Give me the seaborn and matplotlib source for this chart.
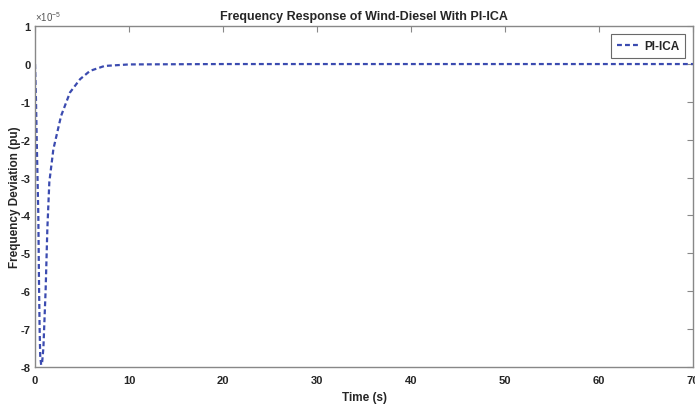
import matplotlib
matplotlib.use("Agg")
import matplotlib.pyplot as plt
import seaborn as sns
import pandas as pd
import numpy as np
from matplotlib.ticker import FuncFormatter

time_s = [0.0, 0.1, 0.18, 0.35, 0.43, 0.49, 0.55, 0.65, 0.75, 0.89, 1.13, 1.31, 1.52, 1.95,
          2.77, 3.72, 4.79, 5.85, 7.4, 10.0, 20.0, 30.0, 40.0, 50.0, 60.0, 70.0]
deviation = [0.0, -0.93e-5, -2.0e-5, -4.0e-5, -5.95e-5, -7.0e-5, -7.7e-5, -7.95e-5, -7.9e-5,
             -7.5e-5, -5.95e-5, -4.36e-5, -3.12e-5, -2.25e-5, -1.37e-5, -0.75e-5, -0.40e-5,
             -0.18e-5, -0.05e-5, -0.01e-5, 0.0, 0.0, 0.0, 0.0, 0.0, 0.0]
series_name = "PI-ICA"
x_ticks = [0, 10, 20, 30, 40, 50, 60, 70]
y_ticks = [v * 1e-5 for v in [-8, -7, -6, -5, -4, -3, -2, -1, 0, 1]]

df = pd.DataFrame({"Time": time_s, "Dev": deviation, "Method": series_name})

sns.set_style("white")
plt.rcParams["font.family"] = ["Liberation Sans", "DejaVu Sans"]
plt.rcParams["mathtext.fontset"] = "custom"
plt.rcParams["mathtext.rm"] = "Liberation Sans"
plt.rcParams["axes.unicode_minus"] = False

fig = plt.figure(figsize=(6.95, 4.06), dpi=100)
ax = fig.add_axes([0.0504, 0.094, 0.947, 0.839])

sns.lineplot(data=df, x="Time", y="Dev", hue="Method", palette=["#3b4bb0"],
             ax=ax, linewidth=1.6, dashes=False, legend=True)
for ln in ax.get_lines():
    ln.set_dashes((2.2, 1.4))

ax.set_xlim(0, 70)
ax.set_ylim(-8e-5, 1e-5)
ax.set_xticks(x_ticks)
ax.set_yticks(y_ticks)
ax.yaxis.set_major_formatter(FuncFormatter(lambda v, p: f"{round(v / 1e-5):d}"))
ax.text(0.0, 1.008, r"$\times10^{-5}$", transform=ax.transAxes, fontsize=7,
        color="#555555", ha="left", va="bottom")

ax.tick_params(direction="in", length=4, width=0.8, color="#888888",
               top=True, right=True, labelsize=8)
ax.tick_params(axis="y", pad=3)
ax.tick_params(axis="x", pad=6)
for lab in ax.get_xticklabels() + ax.get_yticklabels():
    lab.set_fontweight("bold")
for sp in ax.spines.values():
    sp.set_color("#888888")
    sp.set_linewidth(1.0)

ax.set_xlabel("Time (s)", fontsize=8.5, fontweight="bold", labelpad=4)
ax.set_ylabel("Frequency Deviation (pu)", fontsize=8.5, fontweight="bold", labelpad=0)
ax.set_title("Frequency Response of Wind-Diesel With PI-ICA", fontsize=9,
             fontweight="bold", pad=5)

leg = ax.legend(loc="upper right", frameon=True, fancybox=False,
                edgecolor="#444444", handlelength=2.0, handletextpad=0.25,
                borderaxespad=0.7, borderpad=0.5,
                prop={"weight": "bold", "size": 8.5})
leg.get_frame().set_linewidth(0.8)
for h in leg.get_lines():
    h.set_dashes((2.2, 1.4))
    h.set_linewidth(1.6)

fig.savefig("out.png", dpi=100)
